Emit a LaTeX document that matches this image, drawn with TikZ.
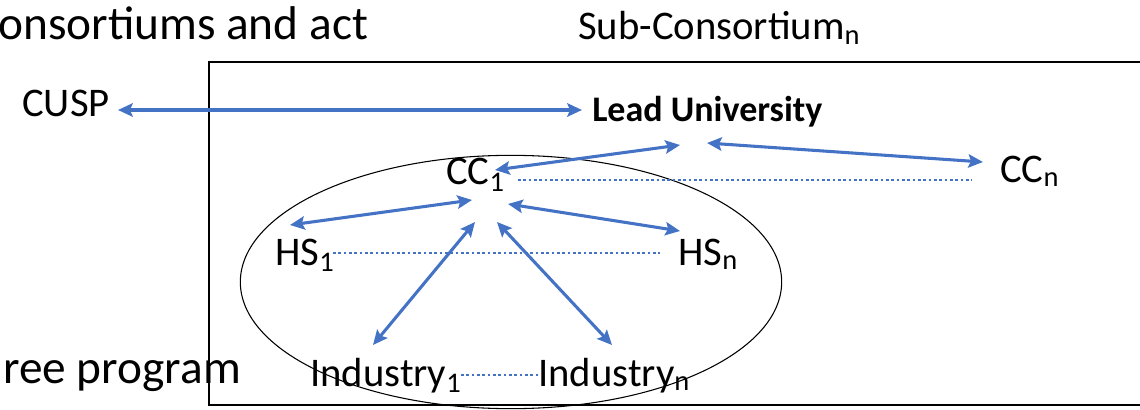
\documentclass[tikz,border=0pt]{standalone}
\usepackage{fontspec}
\setmainfont{Carlito}
\usetikzlibrary{arrows.meta,calc}
\definecolor{linkblue}{RGB}{68,114,196}
\tikzset{lbl/.style={inner sep=0pt,anchor=base west,font=\fontsize{30.5}{36}\selectfont},
         big/.style={lbl,font=\fontsize{35.5}{40}\selectfont},
         link/.style={draw=linkblue,line width=2.3pt,{Stealth[length=11pt,width=10pt,inset=2pt]}-{Stealth[length=11pt,width=10pt,inset=2pt]}},
         dots/.style={draw=linkblue,line width=2pt,dash pattern=on 2pt off 2pt}}

\begin{document}
\begin{tikzpicture}[x=0.75pt,y=-0.75pt]
                \useasboundingbox (0,0) rectangle (1140,410);
                \clip (0,0) rectangle (1140,410);
                \draw[line width=1.6pt] (209,62) rectangle (1160,405);
                \draw[line width=0.8pt] (511,282) ellipse [x radius=203pt,y radius=95pt];
                \node[big] (top) at (-2,40) {onsortiums and act};
                \node[big] (bottom) at (3,383) {ree program};
                \node[lbl] (sub) at (578,40) {Sub-Consortium\textsubscript{n}};
                \node[lbl] (cusp) at (22,117) {CUSP};
                \node[lbl,font=\fontsize{27}{32}\selectfont\bfseries] (lead) at (592,122) {Lead University};
                \node[lbl] (cc1) at (446,185) {CC\textsubscript{1}};
                \node[lbl] (ccn) at (1000,182) {CC\textsubscript{n}};
                \node[lbl] (hs1) at (275,265) {HS\textsubscript{1}};
                \node[lbl] (hsn) at (678,265) {HS\textsubscript{n}};
                \node[lbl] (ind1) at (310,386) {Industry\textsubscript{1}};
                \node[lbl] (indn) at (538,386) {Industry\textsubscript{n}};
                % links
                \draw[link] ($(cusp.base west)+(96,-7)$) -- ($(lead.base west)+(-10,-12)$);
                \draw[link] ($(cc1.base west)+(49,-15)$) -- ($(lead.base west)+(88,23)$);
                \draw[link] ($(lead.base west)+(115,21)$) -- ($(ccn.base west)+(-17,-20)$);
                \draw[link] ($(cc1.base west)+(26,15)$) -- ($(hs1.base west)+(15,-40)$);
                \draw[link] ($(cc1.base west)+(62,19)$) -- ($(hsn.base west)+(2,-34)$);
                \draw[link] ($(cc1.base west)+(29,37)$) -- ($(ind1.base west)+(63,-41)$);
                \draw[link] ($(cc1.base west)+(51,37)$) -- ($(indn.base west)+(74,-41)$);
                % dotted rows
                \draw[dots] ($(cc1.base west)+(72,-5)$) -- ($(ccn.base west)+(-28,-2)$);
                \draw[dots] ($(hs1.base west)+(58,-12)$) -- ($(hsn.base west)+(-18,-12)$);
                \draw[dots] ($(ind1.base west)+(151,-11)$) -- ($(indn.base west)+(0,-11)$);
            \end{tikzpicture}
\end{document}
